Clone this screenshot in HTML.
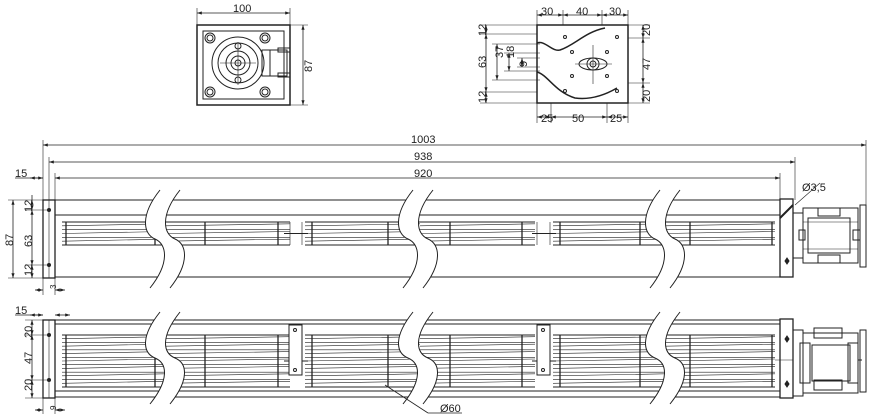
<!DOCTYPE html>
<html><head><meta charset="utf-8"><style>
html,body{margin:0;padding:0;background:#fff;}
svg{display:block;font-family:"Liberation Sans",sans-serif;}
</style></head><body>
<svg id="s" width="875" height="416" viewBox="0 0 875 416" xmlns="http://www.w3.org/2000/svg" fill="none" stroke="#222" stroke-width="1">
<defs><marker id="a" markerWidth="6" markerHeight="4" refX="6" refY="2" orient="auto-start-reverse"><path d="M0,0 L6,2 L0,4z" fill="#222" stroke="none"/></marker></defs>
<g id="g"></g>
<g fill="#222" stroke="none" font-size="11">
<text x="233" y="12">100</text>
<text x="0" y="0" transform="translate(312,72) rotate(-90)">87</text>
<text x="541" y="15">30</text><text x="576" y="15">40</text><text x="609" y="15">30</text>
<text x="541" y="122">25</text><text x="572" y="122">50</text><text x="610" y="122">25</text>
<text transform="translate(486,36) rotate(-90)">12</text>
<text transform="translate(486,68) rotate(-90)">63</text>
<text transform="translate(486,103) rotate(-90)">12</text>
<text transform="translate(503,58) rotate(-90)">37</text>
<text transform="translate(514,58) rotate(-90)">18</text>
<text transform="translate(527,67) rotate(-90)">9</text>
<text transform="translate(650,36) rotate(-90)">20</text>
<text transform="translate(650,70) rotate(-90)">47</text>
<text transform="translate(650,102) rotate(-90)">20</text>
<text x="411" y="143">1003</text><text x="414" y="160">938</text><text x="414" y="177">920</text>
<text x="15" y="177">15</text>
<text x="802" y="191">Ø3,5</text>
<text transform="translate(13,246) rotate(-90)">87</text>
<text transform="translate(32,212) rotate(-90)">12</text>
<text transform="translate(32,247) rotate(-90)">63</text>
<text transform="translate(32,276) rotate(-90)">12</text>
<text transform="translate(56,289) rotate(-90)" font-size="8">3</text>
<text x="15" y="314">15</text>
<text transform="translate(32,338) rotate(-90)">20</text>
<text transform="translate(32,364) rotate(-90)">47</text>
<text transform="translate(32,391) rotate(-90)">20</text>
<text transform="translate(56,410) rotate(-90)" font-size="8">9</text>
<text x="440" y="412">Ø60</text>
</g>
</svg>
<script>
var g=document.getElementById('g'),h='';
function L(x1,y1,x2,y2,e){h+='<line x1="'+x1+'" y1="'+y1+'" x2="'+x2+'" y2="'+y2+'" '+(e||'')+'/>';}
function R(x,y,w,ht,e){h+='<rect x="'+x+'" y="'+y+'" width="'+w+'" height="'+ht+'" '+(e||'')+'/>';}
function C(x,y,r,e){h+='<circle cx="'+x+'" cy="'+y+'" r="'+r+'" '+(e||'')+'/>';}
function P(d,e){h+='<path d="'+d+'" '+(e||'')+'/>';}
var A='marker-start="url(#a)" marker-end="url(#a)" stroke-width="0.8"';
var T='stroke-width="0.6"';
// ---- view 1 (top left small)
R(197,25,93,80,'stroke-width="1.5"');R(203,31,81,68);
C(210,38,5);C(210,38,3);C(265,38,5);C(265,38,3);C(210,92,5);C(210,92,3);C(265,92,5);C(265,92,3);
C(238,63,26);C(238,63,20);C(238,63,12);C(238,63,7);C(238,63,3);
L(220,63,256,63,T);L(238,42,238,85,T);C(238,46,3);C(238,80,3);
R(262,50,25,26);R(278,48,12,4);R(278,73,12,4);L(270,50,270,76);
L(197,25,197,8,T);L(290,25,290,8,T);L(197,13,290,13,A);
L(290,25,308,25,T);L(290,105,308,105,T);L(303,25,303,105,A);
// ---- view 2 (top right small)
R(537,25,91,78,'stroke-width="1.5"');
P('M537,43 C545,40 552,52 560,50 C575,45 585,32 605,28','stroke-width="1.5"');
P('M537,72 C548,75 555,92 575,98 C590,100 605,95 617,88','stroke-width="1.5"');
h+='<ellipse cx="593" cy="64" rx="14" ry="6"/>';C(593,64,6);C(593,64,3);
L(575,64,612,64,T);L(593,45,593,84,T);
[[565,37],[617,37],[572,52],[607,52],[572,76],[607,76],[565,91],[617,91]].forEach(function(p){C(p[0],p[1],1.5);});
[537,563,602,628].forEach(function(x){L(x,25,x,10,T);});
L(537,15,563,15,A);L(563,15,602,15,A);L(602,15,628,15,A);
[537,551,607,628].forEach(function(x){L(x,103,x,123,T);});
L(537,117,551,117,A);L(551,117,607,117,A);L(607,117,628,117,A);
[25,34,92,103].forEach(function(y){L(480,y,537,y,T);});
L(486,25,486,34,A);L(486,34,486,92,A);L(486,92,486,103,A);
[[44,80,497],[53,71,509],[58,67,522]].forEach(function(d){L(d[2]-5,d[0],540,d[0],T);L(d[2]-5,d[1],540,d[1],T);L(d[2],d[0],d[2],d[1],A);});
[25,38,83,103].forEach(function(y){L(628,y,650,y,T);});
L(643,25,643,38,A);L(643,38,643,83,A);L(643,83,643,103,A);
// ---- big dims
L(43,140,43,200,T);L(49,157,49,200,T);L(55,173,55,200,T);L(780,173,780,200,T);L(795,157,795,200,T);L(866,140,866,205,T);
L(43,145,866,145,A);L(49,162,795,162,A);L(55,178,780,178,A);L(15,178,43,178,'stroke-width="0.8"');L(30,178,43,178,A);
// ---- main views
var breaks=[[155,175],[408,428],[655,675]];
function wv(x,y1,y2){var m=(y1+y2)/2;return [[x+5,y1],[x-15,y1+25],[x-12,m-5],[x,m],[x+12,m+5],[x+15,y2-25],[x-5,y2]];}
function pd(p){return 'M'+p[0]+' C'+p[1]+' '+p[2]+' '+p[3]+' C'+p[4]+' '+p[5]+' '+p[6];}
function brk(x1,x2,y1,y2){
 var a=wv(x1,y1,y2),b=wv(x2,y1,y2).reverse();
 P('M'+a[0]+' C'+a[1]+' '+a[2]+' '+a[3]+' C'+a[4]+' '+a[5]+' '+a[6]+' L'+b[0]+' C'+b[1]+' '+b[2]+' '+b[3]+' C'+b[4]+' '+b[5]+' '+b[6]+' Z','fill="#fff" stroke="none"');
 P(pd(wv(x1,y1,y2)));P(pd(wv(x2,y1,y2)));
}
function seg(x1,x2,y1,y2,n,div){
 for(var i=0;i<=n;i++){var y=y1+(y2-y1)*i/n;L(x1,y,x2,y-2*(i%2),T);}
 L(x1,y1,x2,y1);L(x1,y2,x2,y2);
 div.forEach(function(x){L(x,y1,x,y2,'stroke-width="1.3"');});
}
function housing(top,l2,w1,w2,b1,b2,n,bear){
 [top,l2,b1].forEach(function(y){L(55,y,780,y);});if(b2)L(55,b2,780,b2);
 var sp=[[62,165,[66,155]],[165,290,[205,278]],[305,420,[312,388]],[420,535,[450,522]],[553,665,[560,640]],[665,775,[690,772]]];
 sp.forEach(function(s){seg(s[0],s[1],w1,w2,n,s[2]);});
 bear.forEach(function(x){L(x-12,(w1+w2)/2,x+12,(w1+w2)/2);});
}
R(43,200,12,78,'stroke-width="1.3"');L(49,200,49,278,T);
housing(200,215,222,245,277,0,6,[296,544]);
[290,302,537,550].forEach(function(x){L(x,222,x,245,T);});
breaks.forEach(function(b){brk(b[0],b[1],190,288);});
R(780,199,13,78,'stroke-width="1.3"');L(780,218,793,205,'stroke-width="2"');L(795,205,820,183,T);
P('M787,258 l2,3 l-2,3 l-2,-3z','fill="#222"');
// motor 1
R(793,213,10,45);R(803,208,55,55);R(808,218,42,35);R(818,208,22,8);R(818,255,22,8);R(799,230,6,10);R(853,230,7,10);
L(803,222,858,222,T);L(803,249,858,249,T);
R(860,205,6,62);
// left dims view1
L(8,200,43,200,T);L(8,278,43,278,T);L(13,200,13,278,A);
L(25,210,49,210,T);L(25,265,49,265,T);L(32,195,32,200,'stroke-width="0.8"');L(32,200,32,210,A);L(32,210,32,265,A);L(32,265,32,278,A);
C(49,210,1.5,'fill="#222"');C(49,265,1.5,'fill="#222"');
L(43,278,43,295,T);L(55,278,55,295,T);L(35,290,43,290,A);L(55,290,65,290,A);
// ---- main view 2
R(43,320,12,78,'stroke-width="1.3"');L(49,320,49,398,T);
housing(320,324,335,387,391,397,14,[296,544]);
R(289,325,13,50,'fill="#fff"');C(295,330,1.5);C(295,370,1.5);R(537,325,13,50,'fill="#fff"');C(543,330,1.5);C(543,370,1.5);
breaks.forEach(function(b){brk(b[0],b[1],312,404);});
R(780,319,13,79,'stroke-width="1.3"');
P('M787,336 l2,3 l-2,3 l-2,-3z','fill="#222"');P('M787,381 l2,3 l-2,3 l-2,-3z','fill="#222"');
R(793,330,10,66);R(803,333,55,60);R(800,343,10,40);R(848,343,10,40);R(812,345,38,36);R(814,328,28,10);R(814,380,28,10);
L(858,360,862,360);R(860,330,6,62);L(775,360,793,360,T);
L(15,315,43,315,'stroke-width="0.8"');L(30,315,43,315,A);L(55,315,70,315,A);
L(25,320,43,320,T);L(25,398,43,398,T);L(25,335,49,335,T);L(25,380,49,380,T);
L(32,320,32,335,A);L(32,335,32,380,A);L(32,380,32,398,A);
C(49,335,1.5,'fill="#222"');C(49,380,1.5,'fill="#222"');
L(43,398,43,414,T);L(55,398,55,414,T);L(35,410,43,410,A);L(55,410,65,410,A);
L(385,385,428,413,'stroke-width="0.8"');L(428,413,462,413,'stroke-width="0.8"');
g.innerHTML=h;
</script>
</body></html>
